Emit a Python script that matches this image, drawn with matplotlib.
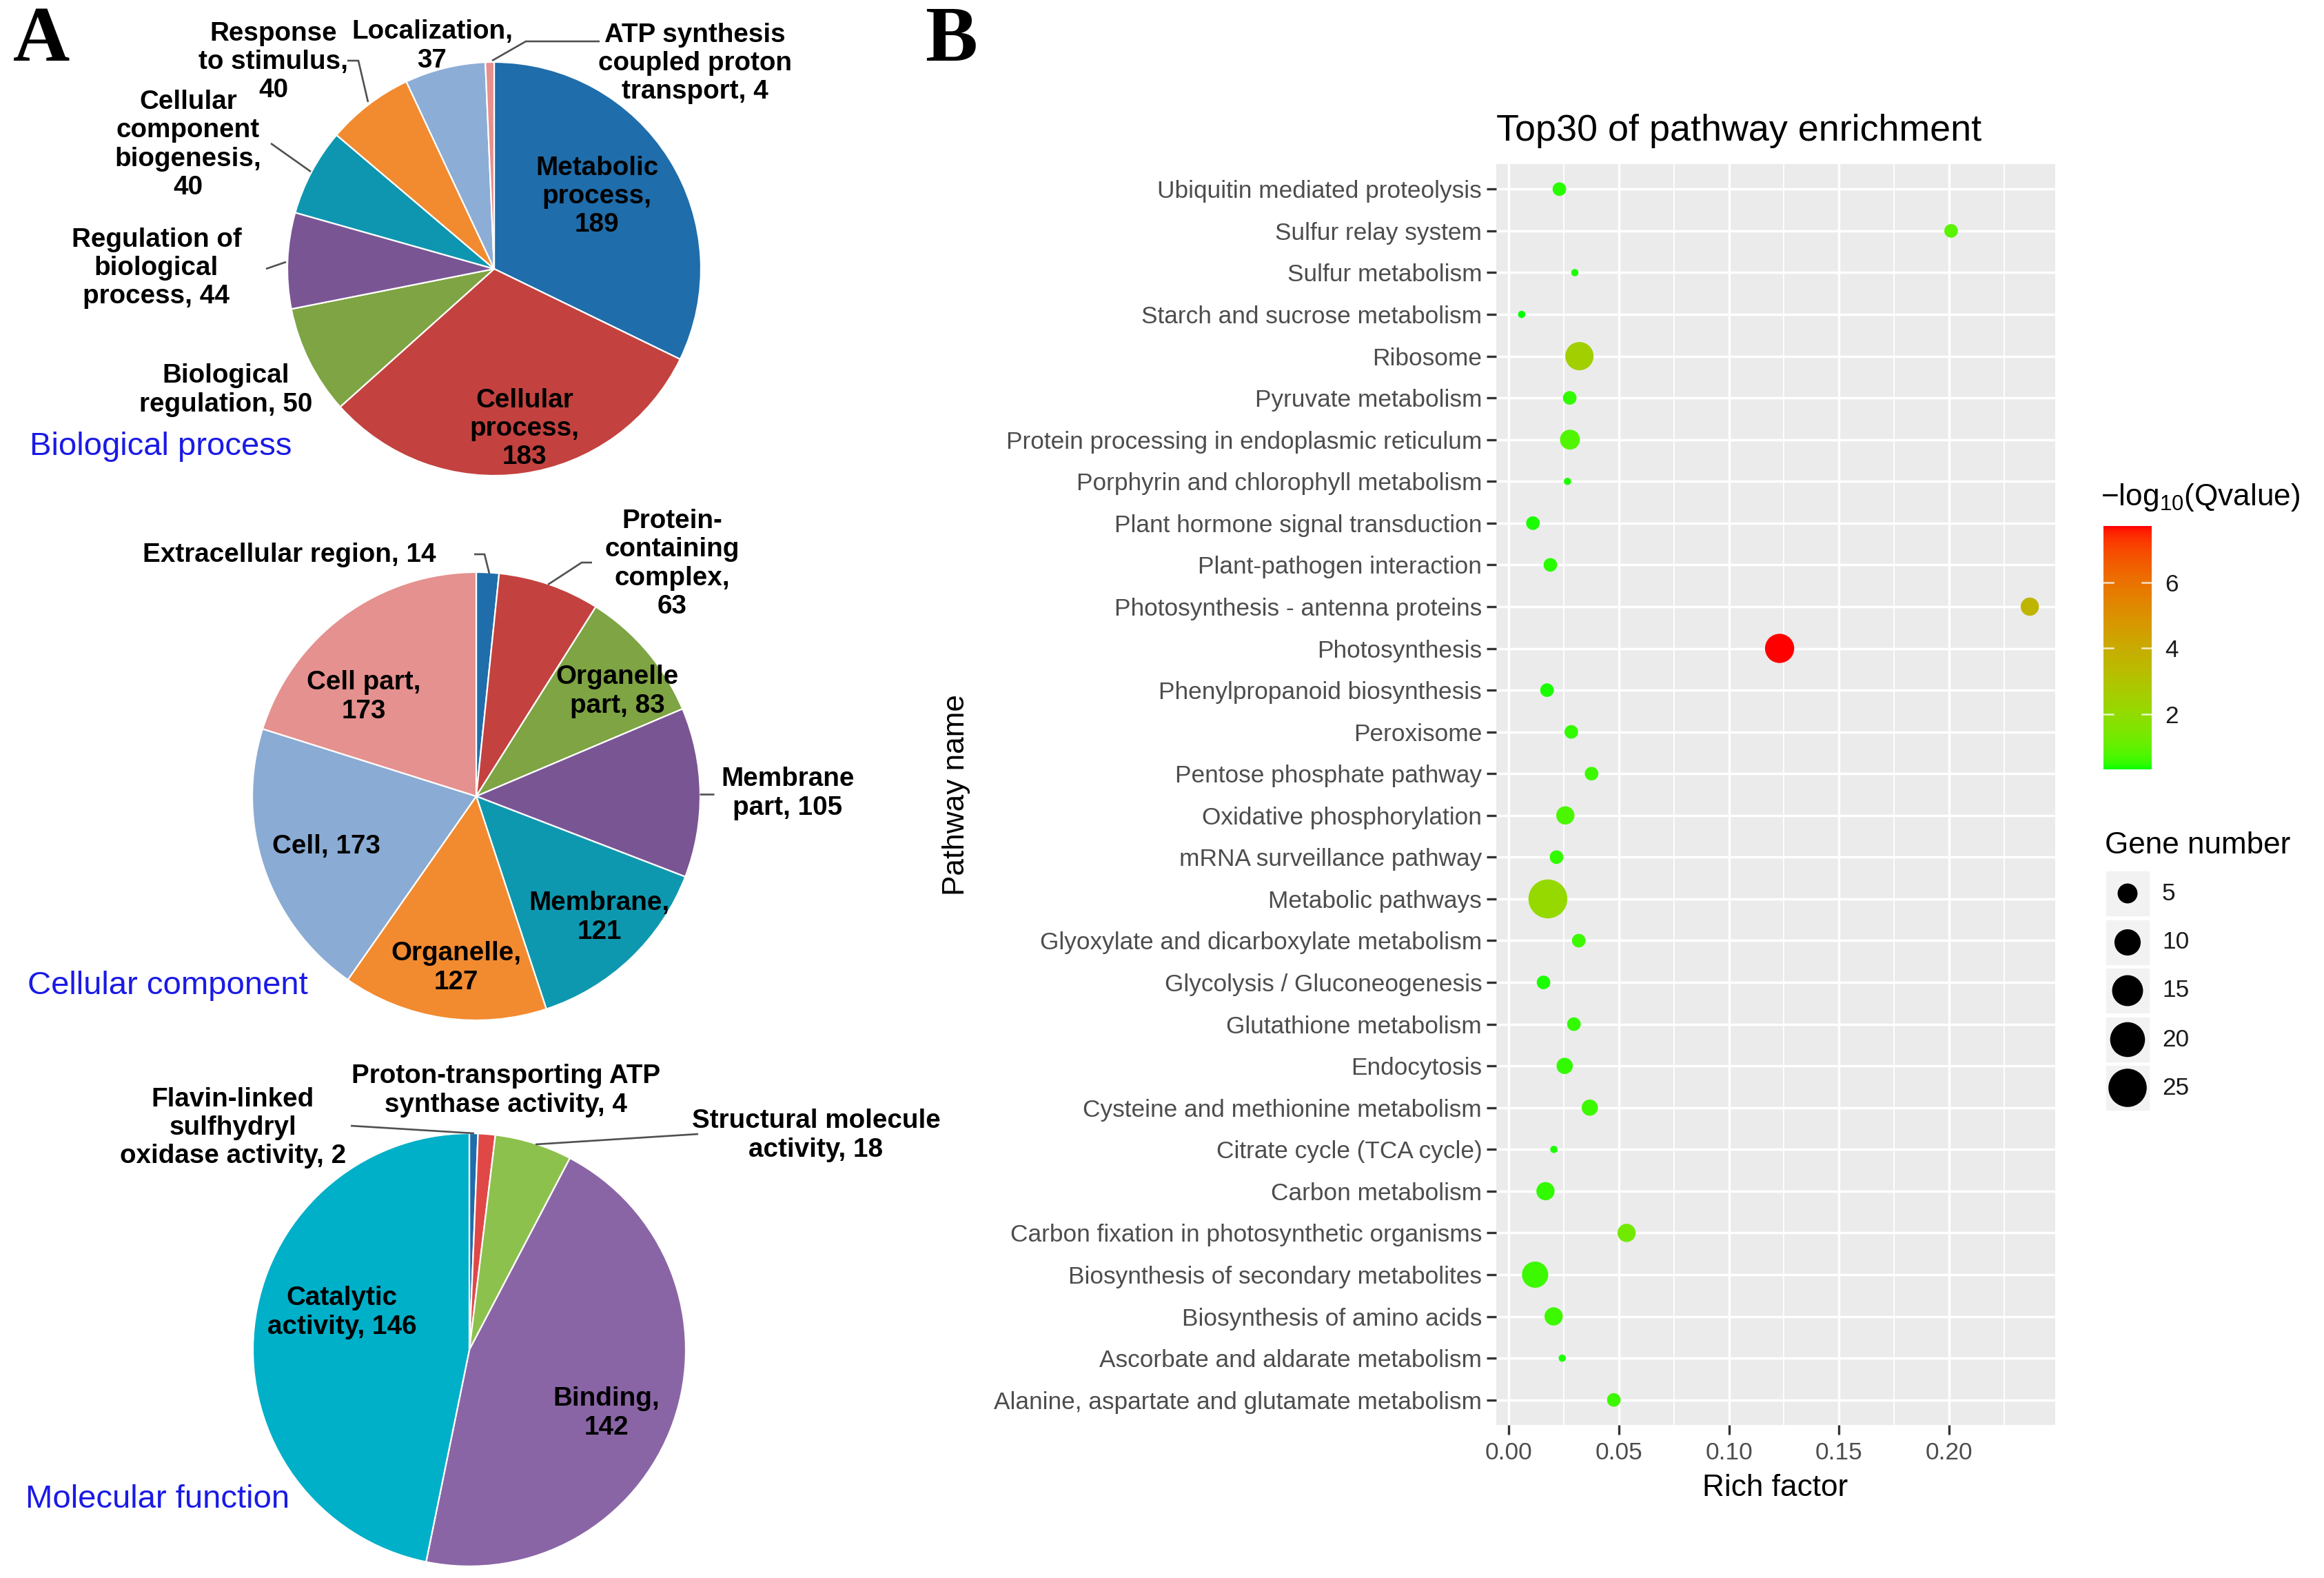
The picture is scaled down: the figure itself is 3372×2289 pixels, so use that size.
import numpy as np
import matplotlib
matplotlib.use('Agg')
import matplotlib.pyplot as plt
from matplotlib.colors import ListedColormap, Normalize
from matplotlib.cm import ScalarMappable
from matplotlib.patches import Rectangle

plt.rcParams['font.family'] = ['Liberation Sans', 'DejaVu Sans']
plt.rcParams['mathtext.fontset'] = 'custom'
plt.rcParams['mathtext.rm'] = 'Liberation Sans'
plt.rcParams['mathtext.it'] = 'Liberation Sans:italic'
plt.rcParams['mathtext.bf'] = 'Liberation Sans:bold'

# ---------------- data ----------------
bp_labels = ["Metabolic\nprocess,\n189", "Cellular\nprocess,\n183", "Biological\nregulation, 50",
             "Regulation of\nbiological\nprocess, 44", "Cellular\ncomponent\nbiogenesis,\n40",
             "Response\nto stimulus,\n40", "Localization,\n37",
             "ATP synthesis\ncoupled proton\ntransport, 4"]
bp_values = [189, 183, 50, 44, 40, 40, 37, 4]
bp_colors = ["#1F6DAB", "#C3423F", "#7EA443", "#7A5594", "#0E96B0", "#F28A30", "#8CADD5", "#E7908E"]

cc_labels = ["Extracellular region, 14", "Protein-\ncontaining\ncomplex,\n63", "Organelle\npart, 83",
             "Membrane\npart, 105", "Membrane,\n121", "Organelle,\n127", "Cell, 173", "Cell part,\n173"]
cc_values = [14, 63, 83, 105, 121, 127, 173, 173]
cc_colors = ["#1F6DAB", "#C3423F", "#7EA443", "#7A5594", "#0E98B0", "#F28A30", "#8AABD3", "#E5918F"]

mf_labels = ["Flavin-linked\nsulfhydryl\noxidase activity, 2", "Proton-transporting ATP\nsynthase activity, 4",
             "Structural molecule\nactivity, 18", "Binding,\n142", "Catalytic\nactivity, 146"]
mf_values = [2, 4, 18, 142, 146]
mf_colors = ["#1F6DAB", "#E04848", "#8DC14D", "#8A65A5", "#00AFC8"]

pathways = ["Ubiquitin mediated proteolysis", "Sulfur relay system", "Sulfur metabolism",
            "Starch and sucrose metabolism", "Ribosome", "Pyruvate metabolism",
            "Protein processing in endoplasmic reticulum", "Porphyrin and chlorophyll metabolism",
            "Plant hormone signal transduction", "Plant-pathogen interaction",
            "Photosynthesis - antenna proteins", "Photosynthesis", "Phenylpropanoid biosynthesis",
            "Peroxisome", "Pentose phosphate pathway", "Oxidative phosphorylation",
            "mRNA surveillance pathway", "Metabolic pathways", "Glyoxylate and dicarboxylate metabolism",
            "Glycolysis / Gluconeogenesis", "Glutathione metabolism", "Endocytosis",
            "Cysteine and methionine metabolism", "Citrate cycle (TCA cycle)", "Carbon metabolism",
            "Carbon fixation in photosynthetic organisms", "Biosynthesis of secondary metabolites",
            "Biosynthesis of amino acids", "Ascorbate and aldarate metabolism",
            "Alanine, aspartate and glutamate metabolism"]
rich_factor = [0.0231, 0.2008, 0.0301, 0.0060, 0.0322, 0.0278, 0.0279, 0.0268, 0.0111, 0.0190,
               0.2365, 0.1230, 0.0175, 0.0285, 0.0377, 0.0258, 0.0218, 0.0179, 0.0319, 0.0159,
               0.0297, 0.0255, 0.0369, 0.0206, 0.0168, 0.0536, 0.0121, 0.0205, 0.0244, 0.0478]
gene_number = [2, 2, 1, 1, 12, 2, 5, 1, 2, 2,
               4, 13, 2, 2, 2, 4, 2, 26, 2, 2,
               2, 3, 3, 1, 4, 4, 10, 4, 1, 2]
neg_log10_q = [0.45, 0.9, 0.4, 0.32, 2.5, 0.5, 0.8, 0.4, 0.4, 0.45,
               3.6, 7.71, 0.4, 0.5, 0.6, 0.7, 0.5, 2.1, 0.6, 0.4,
               0.5, 0.5, 0.6, 0.4, 0.5, 1.3, 0.6, 0.6, 0.4, 0.6]
x_ticks = [0.00, 0.05, 0.10, 0.15, 0.20]
x_tick_labels = ["0.00", "0.05", "0.10", "0.15", "0.20"]
color_ticks = [2, 4, 6]
size_breaks = [5, 10, 15, 20, 25]

# ---------------- figure ----------------
W, H = 3372, 2289
DPI = 200
fig = plt.figure(figsize=(W / DPI, H / DPI), dpi=DPI)
fig.patch.set_facecolor('white')


def fx(x):
    return x / W


def fy(y):
    return 1 - y / H


# Lab-space gradient green -> red (like ggplot scale_colour_gradient)
M = np.array([[0.4124564, 0.3575761, 0.1804375],
              [0.2126729, 0.7151522, 0.0721750],
              [0.0193339, 0.1191920, 0.9503041]])
WP = np.array([0.95047, 1.0, 1.08883])


def srgb_to_lab(rgb):
    rgb = np.asarray(rgb, float)
    lin = np.where(rgb <= 0.04045, rgb / 12.92, ((rgb + 0.055) / 1.055) ** 2.4)
    xyz = lin @ M.T
    t = xyz / WP
    f = np.where(t > (6 / 29) ** 3, np.cbrt(t), t / (3 * (6 / 29) ** 2) + 4 / 29)
    return np.stack([116 * f[..., 1] - 16, 500 * (f[..., 0] - f[..., 1]), 200 * (f[..., 1] - f[..., 2])], -1)


def lab_to_srgb(lab):
    L, a, b = lab[..., 0], lab[..., 1], lab[..., 2]
    fyv = (L + 16) / 116
    fxv = fyv + a / 500
    fzv = fyv - b / 200

    def finv(f):
        return np.where(f > 6 / 29, f ** 3, 3 * (6 / 29) ** 2 * (f - 4 / 29))
    xyz = np.stack([finv(fxv) * WP[0], finv(fyv) * WP[1], finv(fzv) * WP[2]], -1)
    lin = np.clip(xyz @ np.linalg.inv(M).T, 0, 1)
    s = np.where(lin <= 0.0031308, 12.92 * lin, 1.055 * lin ** (1 / 2.4) - 0.055)
    return np.clip(s, 0, 1)


lab_lo = srgb_to_lab([0.0, 1.0, 0.0])
lab_hi = srgb_to_lab([1.0, 0.0, 0.0])
tt = np.linspace(0, 1, 256)[:, None]
cmap = ListedColormap(lab_to_srgb(lab_lo * (1 - tt) + lab_hi * tt))


def size_pts2(n):
    d_px = 10.5 + 9.2 * np.sqrt(np.maximum(np.asarray(n, float) - 1, 0))
    return (d_px * 72 / DPI) ** 2


# ---------------- panel B ----------------
axb = fig.add_axes([fx(2171), fy(2067), fx(2982 - 2171), (2067 - 238) / H])
axb.set_facecolor('#EBEBEB')
for sp in axb.spines.values():
    sp.set_visible(False)
n = len(pathways)
ypos = np.arange(n)[::-1]
norm = Normalize(vmin=min(neg_log10_q), vmax=max(neg_log10_q))
axb.scatter(rich_factor, ypos, s=size_pts2(gene_number), c=neg_log10_q, cmap=cmap, norm=norm,
            edgecolors='none', zorder=3)
lo, hi = min(rich_factor), max(rich_factor)
span = hi - lo
axb.set_xlim(lo - 0.05 * span, hi + 0.05 * span)
axb.set_ylim(-0.6, n - 1 + 0.6)
axb.set_xticks(x_ticks)
axb.set_xticklabels(x_tick_labels)
minor = [(x_ticks[i] + x_ticks[i + 1]) / 2 for i in range(len(x_ticks) - 1)] + [x_ticks[-1] + 0.025]
axb.set_xticks(minor, minor=True)
axb.set_yticks(ypos)
axb.set_yticklabels(pathways)
axb.set_axisbelow(True)
axb.grid(which='major', color='white', lw=1.25)
axb.grid(which='minor', axis='x', color='white', lw=0.65)
axb.tick_params(axis='both', which='major', length=5, width=1.2, color='#333333',
                labelsize=12.7, labelcolor='#4D4D4D', pad=2.5)
axb.tick_params(axis='x', which='major', pad=3.5)
axb.tick_params(which='minor', length=0)

fig.text(fx(2171), fy(204), "Top30 of pathway enrichment", fontsize=19.4, ha='left', va='baseline',
         color='black')
fig.text(fx(2576), fy(2158), "Rich factor", fontsize=15.9, ha='center', va='center', color='black')
fig.text(fx(1387), fy(1153), "Pathway name", fontsize=15.9, ha='center', va='center',
         rotation=90, color='black')

# colour bar
cax = fig.add_axes([fx(3052), fy(1116), fx(70), 353 / H])
cb = fig.colorbar(ScalarMappable(norm=norm, cmap=cmap), cax=cax, ticks=color_ticks)
cb.outline.set_visible(False)
cax.tick_params(length=0, pad=7, labelsize=12.7, labelcolor='#1A1A1A')
for v in color_ticks:
    cax.plot([0, 0.2], [v, v], color='white', lw=0.9, alpha=0.8)
    cax.plot([0.8, 1], [v, v], color='white', lw=0.9, alpha=0.8)
fig.text(fx(3048), fy(721), "\u2212log$_{10}$(Qvalue)", fontsize=15.9, ha='left', va='center',
         color='black')

# ---------------- overlay (pixel coordinates) ----------------
ov = fig.add_axes([0, 0, 1, 1])
ov.patch.set_alpha(0)

# size legend
fig.text(fx(3054), fy(1227), "Gene number", fontsize=15.9, ha='left', va='center', color='black')
key_y = [1296, 1367, 1437, 1508, 1578]
for kv, ky in zip(size_breaks, key_y):
    ov.add_patch(Rectangle((3054, H - ky - 34), 66, 68, facecolor='#F2F2F2', edgecolor='white', lw=1))
ov.scatter([3087] * len(size_breaks), [H - k for k in key_y], s=size_pts2(size_breaks),
           color='black', edgecolors='none', zorder=4)
for kv, ky in zip(size_breaks, key_y):
    ov.text(3137, H - ky, str(kv), fontsize=12.7, ha='left', va='center', color='#1A1A1A')

# pies
wp = dict(edgecolor='white', linewidth=0.8)
ov.pie(bp_values, colors=bp_colors, startangle=90, counterclock=False,
       center=(717, H - 390), radius=300, frame=True, wedgeprops=wp)
ov.pie(cc_values, colors=cc_colors, startangle=90, counterclock=False,
       center=(691, H - 1155), radius=325, frame=True, wedgeprops=wp)
ov.pie(mf_values, colors=mf_colors, startangle=90, counterclock=False,
       center=(681, H - 1958), radius=314, frame=True, wedgeprops=wp)

bp_pos = [(866, 285), (761, 622), (328, 566), (227, 389), (273, 210), (397, 90), (627, 67), (1008, 92)]
cc_pos = [(420, 805), (975, 818), (896, 1003), (1143, 1151), (870, 1331), (662, 1404), (473, 1228), (528, 1011)]
mf_pos = [(338, 1636), (734, 1582), (1184, 1647), (880, 2050), (496, 1904)]
lab_kw = dict(fontsize=13.9, fontweight='bold', ha='center', va='center', linespacing=1.18, color='black')
for lab_list, pos_list in ((bp_labels, bp_pos), (cc_labels, cc_pos), (mf_labels, mf_pos)):
    for lab, (x, y) in zip(lab_list, pos_list):
        ov.text(x, H - y, lab, **lab_kw)

leaders = [
    [(870, 60), (763, 60), (714, 88)],
    [(504, 88), (520, 88), (534, 148)],
    [(393, 208), (451, 249)],
    [(386, 390), (415, 380)],
    [(688, 804), (703, 804), (710, 832)],
    [(859, 816), (844, 816), (795, 848)],
    [(1036, 1152), (1015, 1152)],
    [(509, 1633), (688, 1644)],
    [(1013, 1645), (777, 1660)],
]
for seg in leaders:
    xs = [p[0] for p in seg]
    ys = [H - p[1] for p in seg]
    ov.plot(xs, ys, color='#505050', lw=0.95, solid_capstyle='butt')

blue = '#1A1AE6'
ov.text(43, H - 648, "Biological process", fontsize=17, color=blue, ha='left', va='center')
ov.text(40, H - 1430, "Cellular component", fontsize=17, color=blue, ha='left', va='center')
ov.text(37, H - 2175, "Molecular function", fontsize=17, color=blue, ha='left', va='center')

ov.text(60, H - 60, "A", fontsize=41, fontweight='bold', ha='center', va='center',
        family=['Liberation Serif', 'DejaVu Serif'])
ov.text(1380, H - 60, "B", fontsize=41, fontweight='bold', ha='center', va='center',
        family=['Liberation Serif', 'DejaVu Serif'])

ov.set_xlim(0, W)
ov.set_ylim(0, H)
ov.set_aspect('auto')
ov.axis('off')

fig.savefig('out.png', dpi=DPI, facecolor='white')
